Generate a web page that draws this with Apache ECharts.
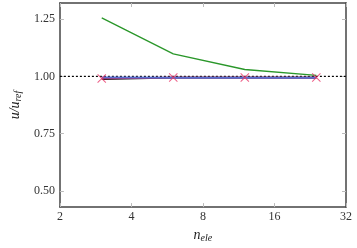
<!DOCTYPE html>
<html><head><meta charset="utf-8">
<script src="https://cdn.jsdelivr.net/npm/echarts@6/dist/echarts.min.js"></script>
<style>html,body{margin:0;padding:0;background:#fff}#c{width:357px;height:248px}</style>
</head><body><div id="c"></div>
<script>
const nEle = [3, 6, 12, 24];
const green = [1.255, 1.098, 1.030, 1.004];
const blue = [0.995, 0.994, 0.994, 0.994];
const red = [0.991, 0.995, 0.995, 0.995];
const black = [0.988, 0.995, 0.995, 0.995];
const refLine = [[2, 1.0], [32, 1.0]];
const yTicks = [0.5, 0.75, 1.0, 1.25];
const xTicks = [2, 4, 8, 16, 32];

const pair = ys => nEle.map((x, i) => [x, ys[i]]);
const font = 'Liberation Serif';
const axisCol = '#444';
const xMark = 'path://M0,0.8L0.8,0L5,4.2L9.2,0L10,0.8L5.8,5L10,9.2L9.2,10L5,5.8L0.8,10L0,9.2L4.2,5Z';

const chart = echarts.init(document.getElementById('c'), null, {renderer: 'canvas'});
const baseX = {
  type: 'log', logBase: 2, min: 2, max: 32,
  axisLine: {lineStyle: {color: axisCol, width: 1.5}},
  axisTick: {inside: true, length: 4, lineStyle: {color: '#bbb'}},
  splitLine: {show: false}, minorTick: {show: false}
};
const baseY = {
  type: 'value', min: 0.43, max: 1.32,
  axisLine: {show: true, lineStyle: {color: axisCol, width: 1.5}},
  axisTick: {inside: true, length: 4, lineStyle: {color: '#bbb'}, customValues: yTicks},
  splitLine: {show: false}
};
chart.setOption({
  animation: false,
  grid: {left: 48, right: 11, top: 3, bottom: 29},
  xAxis: [
    Object.assign({}, baseX, {
      position: 'bottom',
      axisLabel: {color: '#333', fontFamily: font, fontSize: 12, margin: 4,
        formatter: v => String(Math.round(v))},
      name: '{i|n}{s|ele}', nameLocation: 'middle', nameGap: 11,
      nameTextStyle: {rich: {
        i: {fontFamily: font, fontStyle: 'italic', fontSize: 14, color: '#222'},
        s: {fontFamily: font, fontStyle: 'italic', fontSize: 10, color: '#222', verticalAlign: 'bottom', padding: [6, 0, 0, 0]}
      }}
    }),
    Object.assign({}, baseX, {position: 'top', axisLabel: {show: false}})
  ],
  yAxis: [
    Object.assign({}, baseY, {
      position: 'left',
      axisLabel: {color: '#333', fontFamily: font, fontSize: 12, margin: 5,
        customValues: yTicks, formatter: v => v.toFixed(2)},
      name: '{i|u/u}{s|ref}', nameLocation: 'middle', nameRotate: 90, nameGap: 28,
      nameTextStyle: {rich: {
        i: {fontFamily: font, fontStyle: 'italic', fontSize: 14, color: '#222'},
        s: {fontFamily: font, fontStyle: 'italic', fontSize: 10, color: '#222', padding: [6, 0, 0, 0]}
      }}
    }),
    Object.assign({}, baseY, {position: 'right', axisLabel: {show: false}})
  ],
  series: [
    {type: 'line', data: refLine, symbol: 'none', z: 1,
      lineStyle: {color: '#000', width: 1.2, type: [2, 2]}},
    {type: 'line', data: pair(green), symbol: 'none', z: 2,
      lineStyle: {color: '#2a972a', width: 1.3}},
    {type: 'line', data: pair(black), symbol: 'none', z: 3,
      lineStyle: {color: '#111', width: 1.8}},
    {type: 'line', data: pair(red), symbol: 'none', z: 4,
      lineStyle: {color: '#c8143c', width: 1.8}},
    {type: 'line', data: pair(blue), symbol: 'none', z: 5,
      lineStyle: {color: '#5a6ed0', width: 2}},
    {type: 'scatter', data: pair(red), symbol: xMark, symbolSize: 9, z: 6,
      itemStyle: {color: '#e8386a'}}
  ]
});
</script></body></html>
